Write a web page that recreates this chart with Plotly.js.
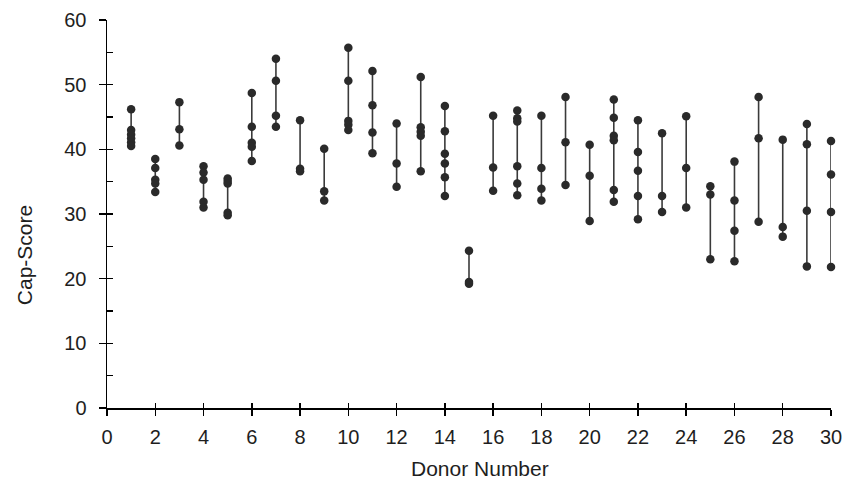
<!DOCTYPE html>
<html>
<head>
<meta charset="utf-8">
<script src="https://cdn.plot.ly/plotly-3.0.1.min.js"></script>
<style>html,body{margin:0;padding:0;background:#fff;}#chart{width:846px;height:483px;}</style>
</head>
<body>
<div id="chart"></div>
<script>
const donors = [1,2,3,4,5,6,7,8,9,10,11,12,13,14,15,16,17,18,19,20,21,22,23,24,25,26,27,28,29,30];
const capScores = [
  [46.2, 43.0, 42.3, 41.7, 41.1, 40.5],
  [38.5, 37.1, 35.3, 34.7, 33.4],
  [47.3, 43.1, 40.6],
  [37.4, 36.4, 35.3, 31.9, 31.0],
  [35.5, 35.1, 34.7, 30.2, 29.8],
  [48.7, 43.5, 41.0, 40.4, 38.2],
  [54.0, 50.6, 45.2, 43.5],
  [44.5, 37.0, 36.6],
  [40.1, 33.5, 32.1],
  [55.7, 50.6, 44.4, 43.8, 43.0],
  [52.1, 46.8, 42.6, 39.4],
  [44.0, 37.8, 34.2],
  [51.2, 43.4, 42.7, 42.1, 36.6],
  [46.7, 42.8, 39.3, 37.8, 35.7, 32.8],
  [24.3, 19.5, 19.2],
  [45.2, 37.2, 33.6],
  [46.0, 44.8, 44.3, 37.4, 34.7, 32.9],
  [45.2, 37.1, 33.9, 32.1],
  [48.1, 41.1, 34.5],
  [40.7, 35.9, 28.9],
  [47.7, 44.9, 42.1, 41.4, 33.7, 31.9],
  [44.5, 39.6, 36.7, 32.8, 29.2],
  [42.5, 32.8, 30.3],
  [45.1, 37.1, 31.0],
  [34.3, 33.0, 23.0],
  [38.1, 32.1, 27.4, 22.7],
  [48.1, 41.7, 28.8],
  [41.5, 28.0, 26.5],
  [43.9, 40.8, 30.5, 21.9],
  [41.3, 36.1, 30.3, 21.8]
];
const xTickVals = [0,2,4,6,8,10,12,14,16,18,20,22,24,26,28,30];
const yTickVals = [0,10,20,30,40,50,60];
const yMinorVals = [0,5,10,15,20,25,30,35,40,45,50,55,60];
const xTitle = 'Donor Number';
const yTitle = 'Cap-Score';

const traces = donors.map((d, i) => ({
  type: 'scatter',
  mode: 'lines+markers',
  x: capScores[i].map(() => d),
  y: capScores[i],
  line: {color: '#3a3a3a', width: 1.6},
  marker: {color: '#2a2a2a', size: 8.5},
  cliponaxis: false,
  showlegend: false,
  hoverinfo: 'x+y'
}));

const fontFam = 'Liberation Sans, Arial, sans-serif';
const txt = '#1e1e1e';
const layout = {
  width: 846, height: 483,
  margin: {l: 107, r: 15, t: 20, b: 75},
  paper_bgcolor: '#fff', plot_bgcolor: '#fff',
  font: {family: fontFam, size: 20, color: txt},
  showlegend: false,
  xaxis: {
    range: [0, 30], tickvals: xTickVals, ticktext: xTickVals.map(String),
    showgrid: false, zeroline: false, showline: true, linecolor: '#000', linewidth: 1.5,
    ticks: 'outside', ticklen: 6, tickwidth: 1.5, tickcolor: '#000', ticklabelstandoff: 4,
    tickfont: {family: fontFam, size: 20, color: txt},
    automargin: false
  },
  xaxis2: {
    range: [0, 30], tickvals: xTickVals, overlaying: 'x', anchor: 'y',
    showgrid: false, zeroline: false, showline: false, showticklabels: false,
    ticks: 'inside', ticklen: 5, tickwidth: 1.5, tickcolor: '#000', side: 'bottom'
  },
  yaxis: {
    range: [0, 60], tickvals: yTickVals, ticktext: yTickVals.map(String),
    showgrid: false, zeroline: false, showline: true, linecolor: '#000', linewidth: 1.5,
    ticks: 'outside', ticklen: 7, tickwidth: 1.5, tickcolor: '#000', ticklabelstandoff: 8,
    tickfont: {family: fontFam, size: 20, color: txt},
    automargin: false
  },
  yaxis2: {
    range: [0, 60], tickvals: yMinorVals, overlaying: 'y', anchor: 'x',
    showgrid: false, zeroline: false, showline: false, showticklabels: false,
    ticks: 'inside', ticklen: 6, tickwidth: 1.5, tickcolor: '#000', side: 'left'
  },
  annotations: [
    {text: xTitle, xref: 'paper', yref: 'paper', x: 0.515, y: -0.157,
     xanchor: 'center', yanchor: 'middle', showarrow: false,
     font: {family: fontFam, size: 21, color: txt}},
    {text: yTitle, xref: 'paper', yref: 'paper', x: -0.1146, y: 0.394, textangle: -90,
     xanchor: 'center', yanchor: 'middle', showarrow: false,
     font: {family: fontFam, size: 21, color: txt}}
  ]
};
traces.push({type: 'scatter', x: [null], y: [null], xaxis: 'x2', yaxis: 'y2', showlegend: false, hoverinfo: 'skip'});

Plotly.newPlot('chart', traces, layout, {staticPlot: true, displayModeBar: false});
</script>
</body>
</html>
